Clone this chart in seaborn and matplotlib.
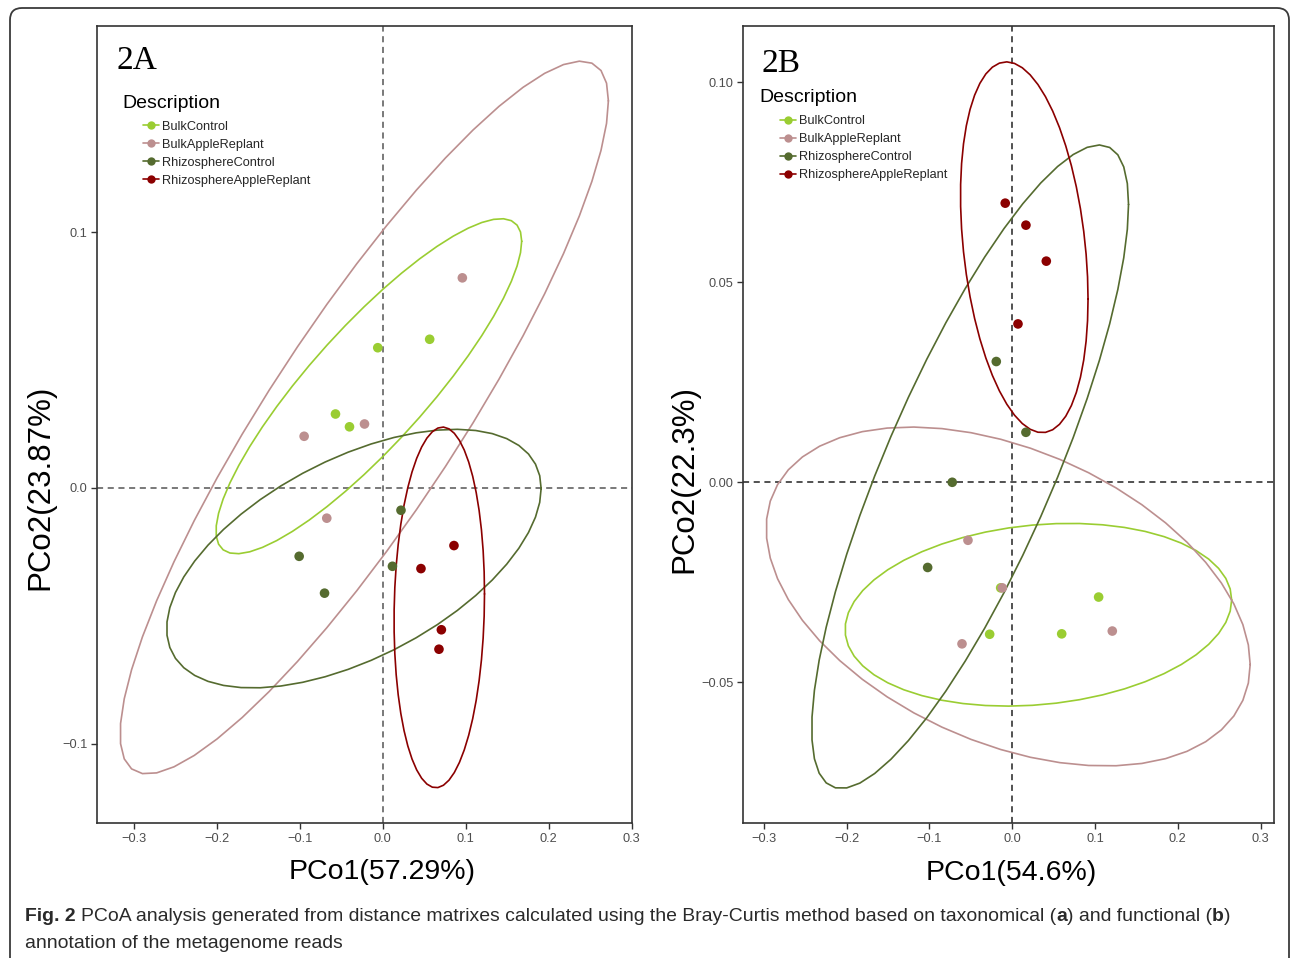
import numpy as np
import pandas as pd
import matplotlib
matplotlib.use("Agg")
import matplotlib.pyplot as plt
import seaborn as sns
from matplotlib.lines import Line2D
from matplotlib.patches import FancyBboxPatch

# ---------------- data ----------------
groups = ["BulkControl", "BulkAppleReplant", "RhizosphereControl", "RhizosphereAppleReplant"]
group_colors = ["#9ACD32", "#BC8F8F", "#556B2F", "#8B0000"]

# Panel 2A (taxonomical)
a_group = ["BulkControl"] * 4 + ["BulkAppleReplant"] * 4 + ["RhizosphereControl"] * 4 + ["RhizosphereAppleReplant"] * 4
a_pco1 = [0.0566, -0.0060, -0.0570, -0.0401,
          0.0960, -0.0220, -0.0948, -0.0675,
          0.0220, -0.1008, 0.0117, -0.0702,
          0.0859, 0.0461, 0.0707, 0.0678]
a_pco2 = [0.0581, 0.0548, 0.0289, 0.0239,
          0.0821, 0.0250, 0.0202, -0.0118,
          -0.0087, -0.0267, -0.0306, -0.0411,
          -0.0225, -0.0315, -0.0554, -0.0630]

# Panel 2B (functional)
b_group = a_group
b_pco1 = [-0.0140, 0.1043, 0.0597, -0.0273,
          -0.0535, -0.0121, 0.1208, -0.0607,
          -0.0193, 0.0165, -0.0725, -0.1022,
          -0.0085, 0.0165, 0.0411, 0.0069]
b_pco2 = [-0.0264, -0.0287, -0.0379, -0.0380,
          -0.0145, -0.0264, -0.0372, -0.0404,
          0.0302, 0.0125, 0.0000, -0.0213,
          0.0698, 0.0643, 0.0553, 0.0396]

a_xticks = [-0.3, -0.2, -0.1, 0.0, 0.1, 0.2, 0.3]
a_xticklabels = ["\u22120.3", "\u22120.2", "\u22120.1", "0.0", "0.1", "0.2", "0.3"]
a_yticks = [-0.1, 0.0, 0.1]
a_yticklabels = ["\u22120.1", "0.0", "0.1"]
b_xticks = a_xticks
b_xticklabels = a_xticklabels
b_yticks = [-0.05, 0.0, 0.05, 0.10]
b_yticklabels = ["\u22120.05", "0.00", "0.05", "0.10"]

a_xlabel, a_ylabel = "PCo1(57.29%)", "PCo2(23.87%)"
b_xlabel, b_ylabel = "PCo1(54.6%)", "PCo2(22.3%)"

caption_line1 = [("Fig. 2", "bold"), (" ", "normal"),
                 ("PCoA analysis generated from distance matrixes calculated using the Bray-Curtis method based on taxonomical (", "normal"),
                 ("a", "bold"), (") and functional (", "normal"), ("b", "bold"), (")", "normal")]
caption_line2 = [("annotation of the metagenome reads", "normal")]

# ---------------- stat_ellipse (type = "t", level = 0.95) ----------------
def cov_trob(x, nu=5, maxit=25, tol=0.01):
    n, p = x.shape
    wt = np.ones(n)
    loc = x.mean(axis=0)
    w = np.ones(n)
    X = x - loc
    for _ in range(maxit):
        w0 = w.copy()
        X = x - loc
        sw = np.sqrt(w / w.sum())
        _, d, vt = np.linalg.svd(sw[:, None] * X, full_matrices=False)
        wX = X @ vt.T @ np.diag(1.0 / d)
        Q = (wX ** 2).sum(axis=1)
        w = (wt * (nu + p)) / (nu + Q)
        loc = (wt[:, None] * w[:, None] * x).sum(axis=0) / (wt * w).sum()
        if np.all(np.abs(w - w0) < tol):
            break
    cov = (np.sqrt(w)[:, None] * X).T @ (np.sqrt(w)[:, None] * X) / wt.sum()
    return loc, cov

def stat_ellipse(xs, ys, level=0.95, segments=51):
    pts = np.column_stack([xs, ys])
    center, shape = cov_trob(pts)
    dfn, dfd = 2, len(pts) - 1
    fq = (dfd / 2.0) * ((1 - level) ** (-2.0 / dfd) - 1)  # qf(level, 2, dfd)
    radius = np.sqrt(dfn * fq)
    L = np.linalg.cholesky(shape)
    ang = np.arange(segments + 1) * 2 * np.pi / segments
    circ = np.column_stack([np.cos(ang), np.sin(ang)])
    ell = center + radius * (circ @ L.T)
    return ell[:, 0], ell[:, 1]

# ---------------- figure ----------------
W, H = 1290, 958
sns.set_style("white")
plt.rcParams["font.family"] = ["Liberation Sans", "DejaVu Sans"]
fig = plt.figure(figsize=(W / 100, H / 100), dpi=100)

palette = dict(zip(groups, group_colors))

def px_axes(l, t, r, b):
    return fig.add_axes([l / W, 1 - b / H, (r - l) / W, (b - t) / H])

panels = [
    dict(box=(97, 26, 632, 823), g=a_group, x=a_pco1, y=a_pco2,
         xlim=(-0.3446, 0.3006), ylim=(-0.1309, 0.1805),
         xt=a_xticks, xtl=a_xticklabels, yt=a_yticks, ytl=a_yticklabels,
         xlab=a_xlabel, ylab=a_ylabel, xlab_pos=(382, 872), ylab_pos=(40, 487),
         tag="2A", tag_pos=(116, 69.3), desc_pos=(122.3, 108.3), leg_pos=(142.5, 120.5),
         vcol="#555555"),
    dict(box=(743, 26, 1274, 823), g=b_group, x=b_pco1, y=b_pco2,
         xlim=(-0.3252, 0.3161), ylim=(-0.0852, 0.1141),
         xt=b_xticks, xtl=b_xticklabels, yt=b_yticks, ytl=b_yticklabels,
         xlab=b_xlabel, ylab=b_ylabel, xlab_pos=(1011, 873), ylab_pos=(684, 479),
         tag="2B", tag_pos=(761.7, 72.3), desc_pos=(759, 101.7), leg_pos=(779.5, 115.0),
         vcol="#222222"),
]

for P in panels:
    ax = px_axes(*P["box"])
    df = pd.DataFrame({"Description": P["g"], "PCo1": P["x"], "PCo2": P["y"]})
    ax.axvline(0, color=P["vcol"], lw=1.1, ls=(0, (4, 3)), zorder=1)
    ax.axhline(0, color=P["vcol"], lw=1.1, ls=(0, (4, 3)), zorder=1)
    for gname, col in zip(groups, group_colors):
        sub = df[df["Description"] == gname]
        ex, ey = stat_ellipse(sub["PCo1"].to_numpy(), sub["PCo2"].to_numpy())
        ax.plot(ex, ey, color=col, lw=1.2, zorder=2)
    sns.scatterplot(data=df, x="PCo1", y="PCo2", hue="Description", hue_order=groups,
                    palette=palette, s=48, linewidth=0, legend=False, ax=ax, zorder=3)
    ax.set_xlim(*P["xlim"])
    ax.set_ylim(*P["ylim"])
    ax.set_xticks(P["xt"])
    ax.set_xticklabels(P["xtl"])
    ax.set_yticks(P["yt"])
    ax.set_yticklabels(P["ytl"])
    ax.set_xlabel("")
    ax.set_ylabel("")
    ax.tick_params(direction="out", length=4, width=1, color="#333333",
                   labelsize=9.2, labelcolor="#4D4D4D", pad=3,
                   bottom=True, left=True, top=False, right=False)
    for sp in ax.spines.values():
        sp.set_visible(True)
        sp.set_color("#333333")
        sp.set_linewidth(1.2)
    # axis titles
    fig.text(P["xlab_pos"][0] / W, 1 - P["xlab_pos"][1] / H, P["xlab"],
             fontsize=20.5, ha="center", va="center", color="black")
    fig.text(P["ylab_pos"][0] / W, 1 - P["ylab_pos"][1] / H, P["ylab"],
             fontsize=22.5, ha="center", va="center", rotation=90, color="black")
    # panel tag
    fig.text(P["tag_pos"][0] / W, 1 - P["tag_pos"][1] / H, P["tag"],
             fontsize=24, family="Liberation Serif", ha="left", va="baseline", color="black")
    # legend
    fig.text(P["desc_pos"][0] / W, 1 - P["desc_pos"][1] / H, "Description",
             fontsize=14, ha="left", va="baseline", color="black")
    handles = [Line2D([0], [0], color=c, lw=1.2, marker="o", markersize=6,
                      markeredgewidth=0) for c in group_colors]
    ax.legend(handles, groups, loc="upper left",
              bbox_to_anchor=(P["leg_pos"][0] / W, 1 - P["leg_pos"][1] / H),
              bbox_transform=fig.transFigure, frameon=False, fontsize=9.2,
              handlelength=1.3, handletextpad=0.2, labelspacing=0.48,
              borderpad=0, borderaxespad=0)

# outer rounded frame (bottom runs off the image)
frame = FancyBboxPatch((0.10, -0.20), 12.79, 9.50 + 0.20,
                       boxstyle="round,pad=0,rounding_size=0.12",
                       transform=fig.dpi_scale_trans, fill=False,
                       edgecolor="#3a3a3a", lw=1.3, clip_on=False)
fig.add_artist(frame)

# caption with bold parts
cap_family = ["Liberation Sans Narrow", "Liberation Sans", "DejaVu Sans"]
renderer = fig.canvas.get_renderer()

def draw_pieces(pieces, x0, ybase, size):
    arts = []
    x = x0
    for txt, wt in pieces:
        if txt == " ":
            t1 = fig.text(0, 0, "a a", fontsize=size, family=cap_family, fontweight=wt)
            t2 = fig.text(0, 0, "aa", fontsize=size, family=cap_family, fontweight=wt)
            x += t1.get_window_extent(renderer).width - t2.get_window_extent(renderer).width
            t1.remove(); t2.remove()
            continue
        t = fig.text(x / W, 1 - ybase / H, txt, fontsize=size, family=cap_family,
                     fontweight=wt, ha="left", va="baseline", color="#2a2a2a")
        x += t.get_window_extent(renderer).width
        arts.append(t)
    return arts, x

arts, xend = draw_pieces(caption_line1, 25, 921, 13)
size = 13 * (1228 - 25) / (xend - 25)
for a in arts:
    a.remove()
draw_pieces(caption_line1, 25, 921, size)
draw_pieces(caption_line2, 25, 948, size)

fig.savefig("out.png", dpi=100, facecolor="white")
